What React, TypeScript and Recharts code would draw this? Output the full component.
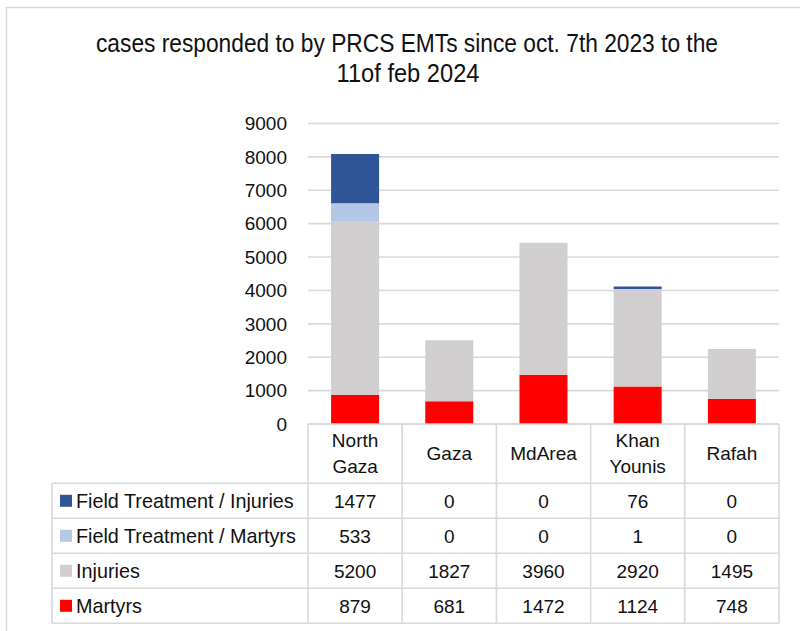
import React from 'react';
import { BarChart, Bar, XAxis, YAxis, CartesianGrid } from 'recharts';

const categories = ['North Gaza', 'Gaza', 'MdArea', 'Khan Younis', 'Rafah'];
const martyrs = [879, 681, 1472, 1124, 748];
const injuries = [5200, 1827, 3960, 2920, 1495];
const ftMartyrs = [533, 0, 0, 1, 0];
const ftInjuries = [1477, 0, 0, 76, 0];
const yTicks = [0, 1000, 2000, 3000, 4000, 5000, 6000, 7000, 8000, 9000];
const titleLines = ['cases responded to by PRCS EMTs since oct. 7th 2023 to the', '11of feb 2024'];

const COLORS = {
  martyrs: '#FF0000',
  injuries: '#D0CECE',
  ftMartyrs: '#B4C7E7',
  ftInjuries: '#2F5597',
};

const data = categories.map((c, i) => ({
  name: c,
  martyrs: martyrs[i],
  injuries: injuries[i],
  ftMartyrs: ftMartyrs[i],
  ftInjuries: ftInjuries[i],
}));

const tableRows = [
  { label: 'Field Treatment / Injuries', values: ftInjuries, color: COLORS.ftInjuries },
  { label: 'Field Treatment / Martyrs', values: ftMartyrs, color: COLORS.ftMartyrs },
  { label: 'Injuries', values: injuries, color: COLORS.injuries },
  { label: 'Martyrs', values: martyrs, color: COLORS.martyrs },
];

const W = 800;
const H = 631;
const PLOT_LEFT = 308;
const PLOT_RIGHT = 779;
const PLOT_TOP = 123.5;
const PLOT_BOTTOM = 424;
const Y_AXIS_W = 60;
const COL_W = (PLOT_RIGHT - PLOT_LEFT) / categories.length;
const TABLE_LEFT = 52;
const ROW_TOP = 483.3;
const ROW_H = 35;
const LINE = '#D9D9D9';
const FONT = "'Liberation Sans', Arial, sans-serif";
const FS = 19;
const TXT = '#111';

function TableTick(props: any) {
  const { x, payload } = props;
  const i: number = props.index ?? payload.index ?? 0;
  const left = x - COL_W / 2;
  const tableBottom = ROW_TOP + ROW_H * tableRows.length;
  const header = String(payload.value).split(' ');
  const headerCenter = (PLOT_BOTTOM + ROW_TOP) / 2;
  const lineGap = 26;
  const elems: any[] = [];
  elems.push(<line key="vl" x1={left} x2={left} y1={PLOT_BOTTOM} y2={tableBottom} stroke={LINE} strokeWidth={1.6} />);
  if (i === categories.length - 1) {
    elems.push(<line key="vr" x1={left + COL_W} x2={left + COL_W} y1={PLOT_BOTTOM} y2={tableBottom} stroke={LINE} strokeWidth={1.6} />);
  }
  header.forEach((h, k) => {
    const cy = headerCenter + (k - (header.length - 1) / 2) * lineGap;
    elems.push(
      <text key={'h' + k} x={x} y={cy} dy="0.36em" textAnchor="middle" fontFamily={FONT} fontSize={FS} fill={TXT}>{h}</text>
    );
  });
  tableRows.forEach((r, k) => {
    const cy = ROW_TOP + ROW_H * k + ROW_H / 2;
    elems.push(
      <text key={'v' + k} x={x} y={cy} dy="0.36em" textAnchor="middle" fontFamily={FONT} fontSize={FS} fill={TXT}>{r.values[i]}</text>
    );
  });
  if (i === 0) {
    elems.push(<line key="top" x1={PLOT_LEFT} x2={PLOT_RIGHT} y1={PLOT_BOTTOM} y2={PLOT_BOTTOM} stroke={LINE} strokeWidth={1.6} />);
    elems.push(<line key="lb" x1={TABLE_LEFT} x2={TABLE_LEFT} y1={ROW_TOP} y2={tableBottom} stroke={LINE} strokeWidth={1.6} />);
    for (let k = 0; k <= tableRows.length; k++) {
      const yy = ROW_TOP + ROW_H * k;
      elems.push(<line key={'hl' + k} x1={TABLE_LEFT} x2={PLOT_RIGHT} y1={yy} y2={yy} stroke={LINE} strokeWidth={1.6} />);
    }
    tableRows.forEach((r, k) => {
      const cy = ROW_TOP + ROW_H * k + ROW_H / 2;
      elems.push(<rect key={'sq' + k} x={60} y={cy - 6} width={12} height={12} fill={r.color} />);
      elems.push(
        <text key={'l' + k} x={76} y={cy} dy="0.36em" textAnchor="start" fontFamily={FONT} fontSize={19.8} fill={TXT}>{r.label}</text>
      );
    });
  }
  return <g>{elems}</g>;
}

export default function App() {
  return (
    <div style={{ position: 'fixed', left: 0, top: 0, width: W, height: H, background: '#fff' }}>
      <BarChart
        width={W}
        height={H}
        data={data}
        margin={{ top: PLOT_TOP, right: W - PLOT_RIGHT, bottom: 0, left: PLOT_LEFT - Y_AXIS_W }}
        barCategoryGap="24.5%"
      >
        <CartesianGrid vertical={false} stroke={LINE} strokeWidth={1.6} />
        <XAxis
          dataKey="name"
          height={H - PLOT_BOTTOM}
          axisLine={false}
          tickLine={false}
          interval={0}
          tick={<TableTick />}
        />
        <YAxis
          width={Y_AXIS_W}
          domain={[0, 9000]}
          ticks={yTicks}
          axisLine={false}
          tickLine={false}
          tickSize={0}
          tickMargin={21}
          tick={{ fontFamily: FONT, fontSize: FS, fill: TXT }}
        />
        <Bar dataKey="martyrs" stackId="a" fill={COLORS.martyrs} isAnimationActive={false} />
        <Bar dataKey="injuries" stackId="a" fill={COLORS.injuries} isAnimationActive={false} />
        <Bar dataKey="ftMartyrs" stackId="a" fill={COLORS.ftMartyrs} isAnimationActive={false} />
        <Bar dataKey="ftInjuries" stackId="a" fill={COLORS.ftInjuries} isAnimationActive={false} />
      </BarChart>
      <svg width={W} height={H} style={{ position: 'absolute', left: 0, top: 0, pointerEvents: 'none' }}>
        <rect x={6.5} y={7.5} width={W + 10} height={H + 10} fill="none" stroke={LINE} strokeWidth={1.5} />
        <text x={407} y={52} textAnchor="middle" fontFamily="'Liberation Sans Narrow', 'Liberation Sans', sans-serif" fontSize={25} fill={TXT} textLength={622} lengthAdjust="spacingAndGlyphs">{titleLines[0]}</text>
        <text x={408} y={82} textAnchor="middle" fontFamily="'Liberation Sans Narrow', 'Liberation Sans', sans-serif" fontSize={25} fill={TXT} textLength={143} lengthAdjust="spacingAndGlyphs">{titleLines[1]}</text>
      </svg>
    </div>
  );
}
